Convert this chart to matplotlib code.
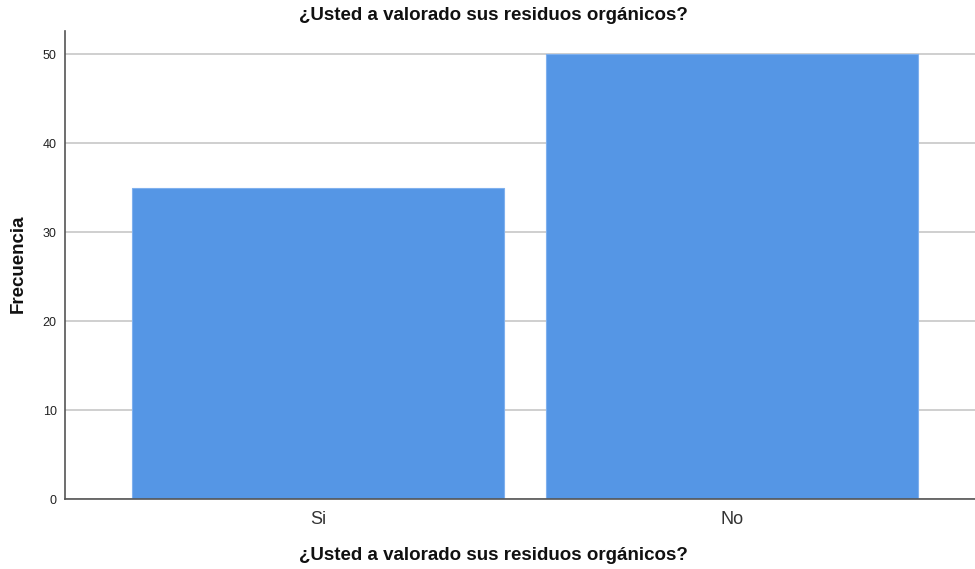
import matplotlib
matplotlib.use("Agg")
import matplotlib.pyplot as plt

categories = ["Si", "No"]
values = [35, 50]
title = "¿Usted a valorado sus residuos orgánicos?"
xlabel = "¿Usted a valorado sus residuos orgánicos?"
ylabel = "Frecuencia"
yticks = [0, 10, 20, 30, 40, 50]

plt.rcParams['font.family'] = ['Liberation Sans', 'DejaVu Sans']

fig = plt.figure(figsize=(9.75, 5.69), dpi=100)
ax = fig.add_axes([65/975, 70/569, 1 - 65/975, (499-31)/569])

x = range(len(categories))
ax.bar(x, values, width=0.9, color="#5596e5", edgecolor="#7fb0ee", linewidth=0.8, zorder=3)

ax.set_xlim(-0.611, 0.587 + 1)
ax.set_ylim(0, 52.6)
ax.set_yticks(yticks)
ax.set_yticklabels([str(t) for t in yticks], fontsize=9, color="#222222")
ax.set_xticks(list(x))
ax.set_xticklabels(categories, fontsize=13, color="#333333")
ax.tick_params(axis='both', length=0, pad=6)
ax.tick_params(axis='x', pad=9)

ax.grid(axis='y', color="#cccccc", linewidth=1.3, zorder=0)
for s in ["top", "right"]:
    ax.spines[s].set_visible(False)
for s in ["left", "bottom"]:
    ax.spines[s].set_color("#555555")
    ax.spines[s].set_linewidth(1.2)
    ax.spines[s].set_zorder(4)

cx = 0.5 * (296 + 690) / 975
fig.text(cx, 1 - 15/569, title, ha="center", va="center",
         fontsize=13.5, fontweight="bold", color="#111111")
fig.text(cx, 1 - 556/569, xlabel, ha="center", va="center",
         fontsize=13.5, fontweight="bold", color="#111111")
fig.text(18/975, 1 - 264/569, ylabel, ha="center", va="center", rotation=90,
         fontsize=13.5, fontweight="bold", color="#111111")

fig.savefig("out.png", dpi=100)
